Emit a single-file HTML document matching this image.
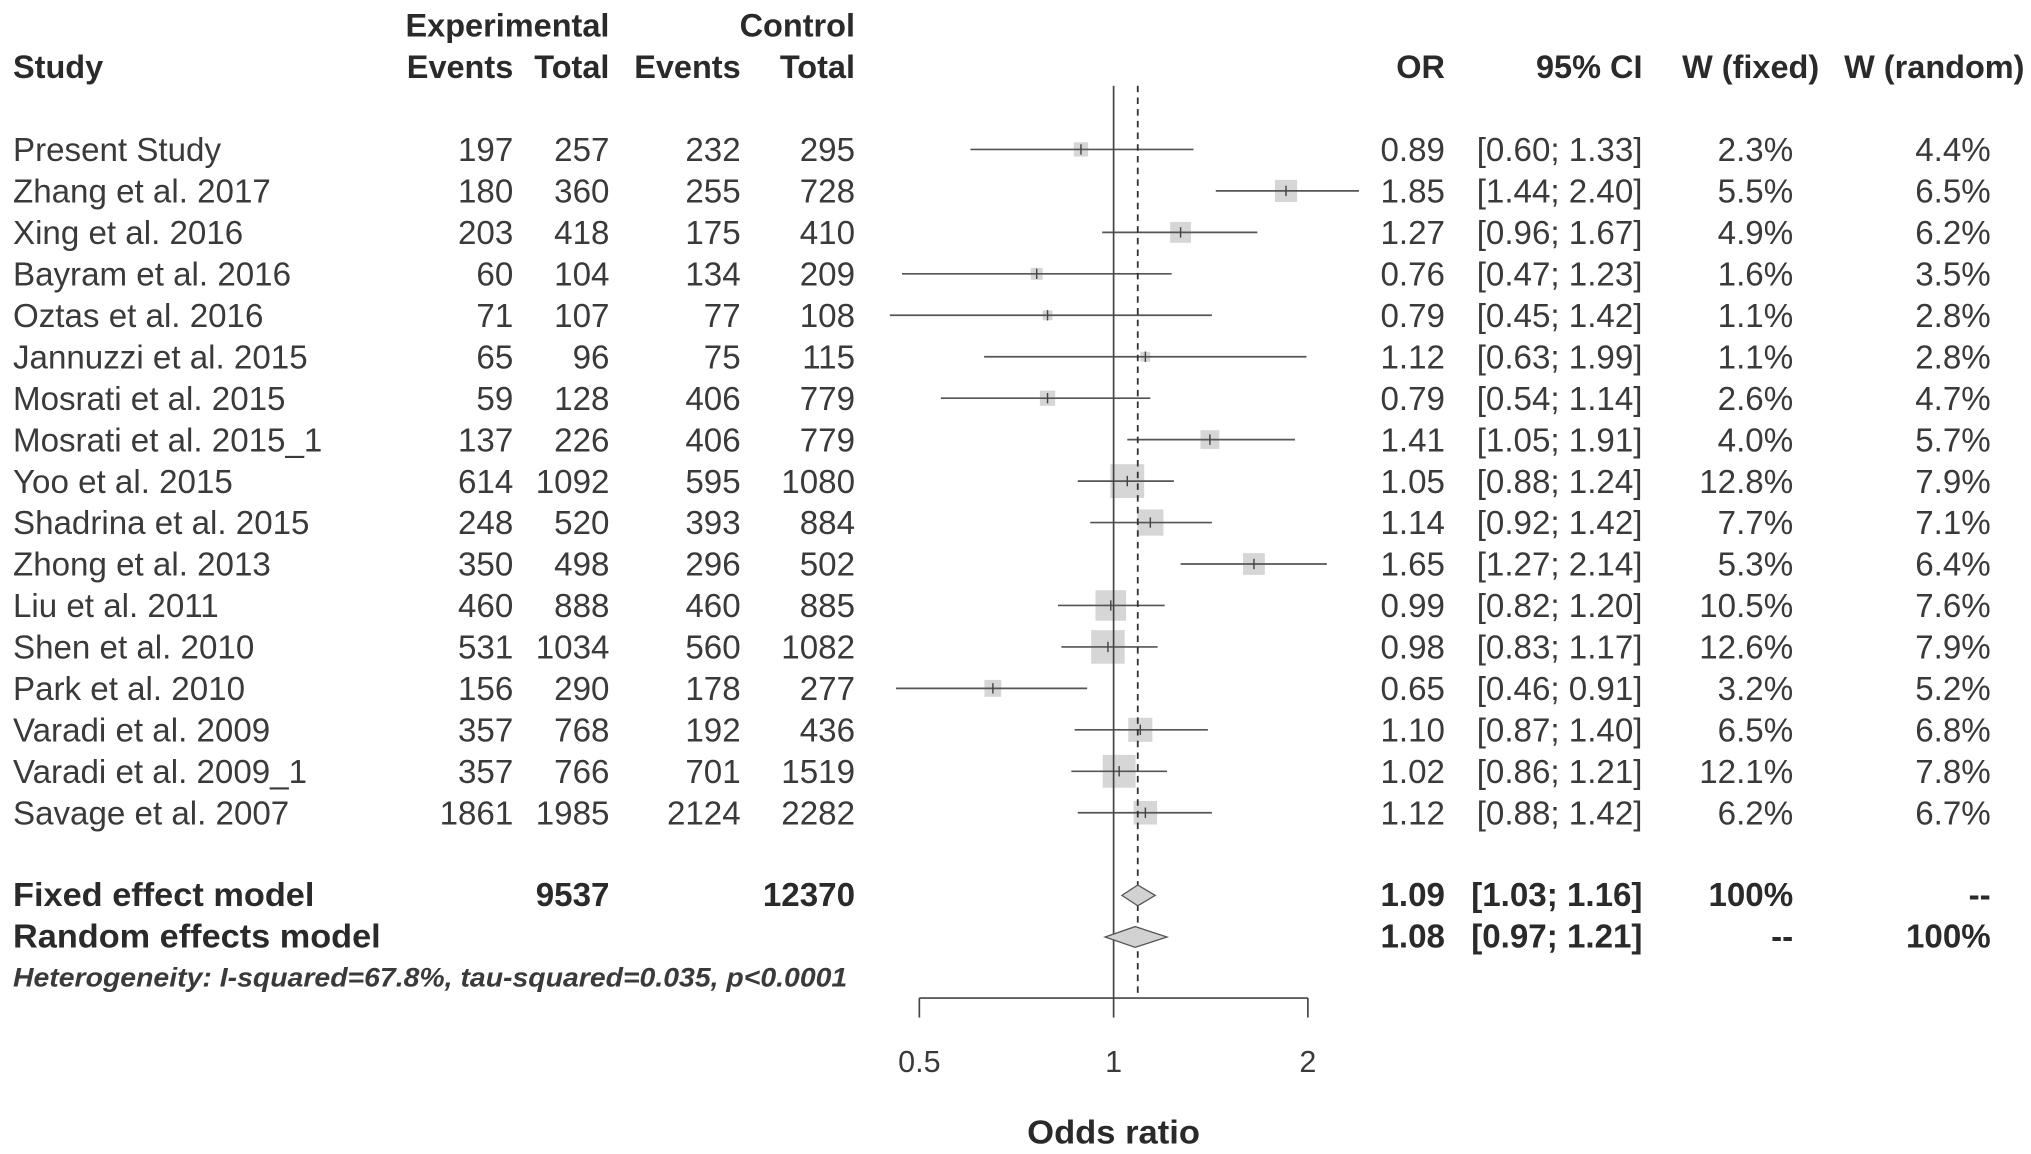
<!DOCTYPE html>
<html><head><meta charset="utf-8"><style>
html,body{margin:0;padding:0;background:#fff;}
svg{display:block;}
text{font-family:"Liberation Sans",Arial,sans-serif;fill:#3a3a3a;}
.b{font-weight:bold;fill:#2a2a2a;}
</style></head><body>
<svg id="chart" width="2031" height="1154" viewBox="0 0 1563 888" preserveAspectRatio="none" xmlns="http://www.w3.org/2000/svg">
<g id="header" class="b" font-size="25">
<text class="b" x="469" y="28" text-anchor="end">Experimental</text>
<text class="b" x="658" y="28" text-anchor="end">Control</text>
<text class="b" x="10" y="60">Study</text>
<text class="b" x="395" y="60" text-anchor="end">Events</text>
<text class="b" x="469" y="60" text-anchor="end">Total</text>
<text class="b" x="570" y="60" text-anchor="end">Events</text>
<text class="b" x="658" y="60" text-anchor="end">Total</text>
<text class="b" x="1112" y="60" text-anchor="end">OR</text>
<text class="b" x="1264" y="60" text-anchor="end">95% CI</text>
<text class="b" x="1400" y="60" text-anchor="end">W (fixed)</text>
<text class="b" x="1558" y="60" text-anchor="end">W (random)</text>
</g>
<g id="rows"></g>
<g id="plot"></g>
</svg>
<script>
const studies=["Present Study","Zhang et al. 2017","Xing et al. 2016","Bayram et al. 2016","Oztas et al. 2016","Jannuzzi et al. 2015","Mosrati et al. 2015","Mosrati et al. 2015_1","Yoo et al. 2015","Shadrina et al. 2015","Zhong et al. 2013","Liu et al. 2011","Shen et al. 2010","Park et al. 2010","Varadi et al. 2009","Varadi et al. 2009_1","Savage et al. 2007"];
const expEvents=[197,180,203,60,71,65,59,137,614,248,350,460,531,156,357,357,1861];
const expTotal=[257,360,418,104,107,96,128,226,1092,520,498,888,1034,290,768,766,1985];
const ctrlEvents=[232,255,175,134,77,75,406,406,595,393,296,460,560,178,192,701,2124];
const ctrlTotal=[295,728,410,209,108,115,779,779,1080,884,502,885,1082,277,436,1519,2282];
const orVals=[0.89,1.85,1.27,0.76,0.79,1.12,0.79,1.41,1.05,1.14,1.65,0.99,0.98,0.65,1.10,1.02,1.12];
const ciLow=[0.60,1.44,0.96,0.47,0.45,0.63,0.54,1.05,0.88,0.92,1.27,0.82,0.83,0.46,0.87,0.86,0.88];
const ciHigh=[1.33,2.40,1.67,1.23,1.42,1.99,1.14,1.91,1.24,1.42,2.14,1.20,1.17,0.91,1.40,1.21,1.42];
const wFixed=[2.3,5.5,4.9,1.6,1.1,1.1,2.6,4.0,12.8,7.7,5.3,10.5,12.6,3.2,6.5,12.1,6.2];
const wRandom=[4.4,6.5,6.2,3.5,2.8,2.8,4.7,5.7,7.9,7.1,6.4,7.6,7.9,5.2,6.8,7.8,6.7];
const fixedModel=[1.09,1.03,1.16];
const randomModel=[1.08,0.97,1.21];
const totals=[9537,12370];
const axisTicks=[0.5,1,2];

const NS="http://www.w3.org/2000/svg";
const X0=857, OCT=149.5;
function xs(v){return X0+Math.log2(v)*OCT;}
function ys(i){return 124+i*31.9;}
function mk(tag,attrs,parent,txt){const e=document.createElementNS(NS,tag);for(const k in attrs)e.setAttribute(k,attrs[k]);if(txt!==undefined)e.textContent=txt;parent.appendChild(e);return e;}
const rows=document.getElementById('rows'), plot=document.getElementById('plot');
const f2=v=>v.toFixed(2);
studies.forEach((s,i)=>{
  const y=ys(i);
  const g=mk('g',{'font-size':'25.5'},rows);
  
  
  const cells=[[10,s,'start'],[395,expEvents[i],'end'],[469,expTotal[i],'end'],[570,ctrlEvents[i],'end'],[658,ctrlTotal[i],'end'],[1112,f2(orVals[i]),'end'],[1264,'['+f2(ciLow[i])+'; '+f2(ciHigh[i])+']','end'],[1380,wFixed[i].toFixed(1)+'%','end'],[1532,wRandom[i].toFixed(1)+'%','end']];
  cells.forEach(c=>{const t=mk('text',{x:c[0],y:y,'text-anchor':c[2]},g,String(c[1]));
    
    });
  const cy=y-9;
  const sz=7.27*Math.sqrt(wFixed[i]);
  const sq=mk('rect',{x:xs(orVals[i])-sz/2,y:cy-sz/2,width:sz,height:sz,fill:'#d6d6d6'},plot);
  
  
  const ln=mk('line',{x1:xs(ciLow[i]),x2:xs(ciHigh[i]),y1:cy,y2:cy,stroke:'#555','stroke-width':1.3},plot);
  
  
  const tk=mk('line',{x1:xs(orVals[i]),x2:xs(orVals[i]),y1:cy-4,y2:cy+4,stroke:'#444','stroke-width':1.1},plot);
  
  
});
const sg=mk('g',{'font-size':'25.5'},rows);


[[10,697,'Fixed effect model','start',232],[469,697,totals[0],'end'],[658,697,totals[1],'end'],[1112,697,f2(fixedModel[0]),'end'],[1264,697,'['+f2(fixedModel[1])+'; '+f2(fixedModel[2])+']','end'],[1380,697,'100%','end'],[1532,697,'--','end'],
 [10,729,'Random effects model','start',283],[1112,729,f2(randomModel[0]),'end'],[1264,729,'['+f2(randomModel[1])+'; '+f2(randomModel[2])+']','end'],[1380,729,'--','end'],[1532,729,'100%','end']].forEach(c=>{
  const a={x:c[0],y:c[1],'text-anchor':c[3],'class':'b'};
  if(c[4]){a.textLength=c[4];a.lengthAdjust='spacingAndGlyphs';}
  const t=mk('text',a,sg,String(c[2]));
  
  
});
const het=mk('text',{x:10,y:759,'font-size':'21','font-style':'italic','font-weight':'bold',textLength:642,lengthAdjust:'spacingAndGlyphs'},sg,'Heterogeneity: I-squared=67.8%, tau-squared=0.035, p<0.0001');


const ref=mk('line',{x1:xs(1),x2:xs(1),y1:66,y2:768,stroke:'#444','stroke-width':1.3},plot);


const dl=mk('line',{x1:xs(fixedModel[0]),x2:xs(fixedModel[0]),y1:66,y2:768,stroke:'#333','stroke-width':1.4,'stroke-dasharray':'5,4'},plot);


[[fixedModel,689],[randomModel,721]].forEach(d=>{
  const m=d[0],cy=d[1];
  const p=mk('polygon',{points:`${xs(m[1])},${cy} ${xs(m[0])},${cy-8} ${xs(m[2])},${cy} ${xs(m[0])},${cy+8}`,fill:'#d2d2d2',stroke:'#555','stroke-width':1},plot);
  
  
});
const ax=mk('line',{x1:xs(axisTicks[0]),x2:xs(axisTicks[axisTicks.length-1]),y1:768,y2:768,stroke:'#444','stroke-width':1.3},plot);


axisTicks.forEach(v=>{
  const t=mk('line',{x1:xs(v),x2:xs(v),y1:768,y2:783,stroke:'#444','stroke-width':1.3},plot);
  
  
  const l=mk('text',{x:xs(v),y:825,'text-anchor':'middle','font-size':'23.5'},plot,String(v));
  
  
});
const at=mk('text',{x:xs(1),y:880,'text-anchor':'middle','font-size':'25.5','class':'b',textLength:133,lengthAdjust:'spacingAndGlyphs'},plot,'Odds ratio');


</script>
</body></html>
